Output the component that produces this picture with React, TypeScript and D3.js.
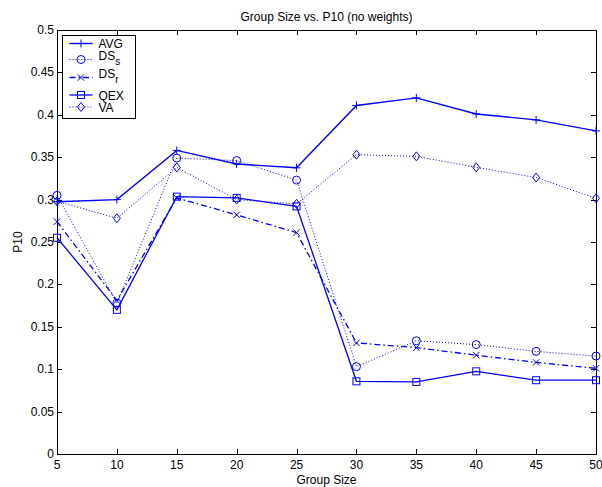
import { useEffect, useRef } from 'react';
import * as d3 from 'd3';

// group sizes on the x axis
const groupSizes = [5, 10, 15, 20, 25, 30, 35, 40, 45, 50];

// P10 for each method
const avgValues = [0.2975, 0.3, 0.358, 0.342, 0.3375, 0.411, 0.42, 0.401, 0.394, 0.381];
const dssValues = [0.305, 0.178, 0.349, 0.346, 0.323, 0.103, 0.1335, 0.129, 0.121, 0.1155];
const dsrValues = [0.274, 0.181, 0.302, 0.282, 0.261, 0.131, 0.1255, 0.1165, 0.108, 0.101];
const qexValues = [0.255, 0.17, 0.3035, 0.302, 0.292, 0.0857, 0.085, 0.0975, 0.087, 0.087];
const vaValues = [0.298, 0.278, 0.338, 0.3, 0.295, 0.353, 0.351, 0.338, 0.326, 0.3015];

const xTicks = [5, 10, 15, 20, 25, 30, 35, 40, 45, 50];
const yTicks = [0, 0.05, 0.1, 0.15, 0.2, 0.25, 0.3, 0.35, 0.4, 0.45, 0.5];

const seriesList = [
  { name: 'AVG', sub: '', values: avgValues, dash: null, marker: 'plus', width: 1.4 },
  { name: 'DS', sub: 's', values: dssValues, dash: '1,2', marker: 'circle', width: 1 },
  { name: 'DS', sub: 'r', values: dsrValues, dash: '6,3,1.5,3', marker: 'x', width: 1.3 },
  { name: 'QEX', sub: '', values: qexValues, dash: null, marker: 'square', width: 1.3 },
  { name: 'VA', sub: '', values: vaValues, dash: '1,2', marker: 'diamond', width: 1 },
];

const BLUE = '#0000ff';

const drawMarker = (g, type, x, y) => {
  const s = 4;
  if (type === 'plus') {
    g.append('path').attr('d', `M${x - s},${y}H${x + s}M${x},${y - s}V${y + s}`);
  } else if (type === 'x') {
    const t = 3.2;
    g.append('path').attr('d', `M${x - t},${y - t}L${x + t},${y + t}M${x - t},${y + t}L${x + t},${y - t}`);
  } else if (type === 'circle') {
    g.append('circle').attr('cx', x).attr('cy', y).attr('r', 4);
  } else if (type === 'square') {
    g.append('rect').attr('x', x - 3.5).attr('y', y - 3.5).attr('width', 7).attr('height', 7);
  } else if (type === 'diamond') {
    g.append('path').attr('d', `M${x},${y - 4.5}L${x + 3.5},${y}L${x},${y + 4.5}L${x - 3.5},${y}Z`);
  }
};

const App = () => {
  const svgRef = useRef(null);

  useEffect(() => {
    const width = 602;
    const height = 487;
    const margin = { top: 30, right: 6, bottom: 33, left: 57 };

    const svg = d3.select(svgRef.current);
    svg.selectAll('*').remove();
    svg
      .attr('width', width)
      .attr('height', height)
      .style('font-family', 'Liberation Sans, Arial, sans-serif')
      .style('display', 'block')
      .style('position', 'absolute')
      .style('left', '0px')
      .style('top', '0px');

    svg.append('rect').attr('width', width).attr('height', height).attr('fill', '#fff');

    const x = d3.scaleLinear().domain([5, 50]).range([margin.left, width - margin.right]);
    const y = d3.scaleLinear().domain([0, 0.5]).range([height - margin.bottom, margin.top]);

    const [x0, x1] = x.range();
    const [y0, y1] = y.range();

    // 軸框
    svg
      .append('rect')
      .attr('x', x0 + 0.5)
      .attr('y', y1 + 0.5)
      .attr('width', x1 - x0)
      .attr('height', y0 - y1)
      .attr('fill', 'none')
      .attr('stroke', '#000')
      .attr('stroke-width', 1);

    const tickLen = 5;
    const ticks = svg.append('g').attr('stroke', '#000').attr('stroke-width', 1);
    xTicks.forEach((t) => {
      const px = Math.round(x(t)) + 0.5;
      ticks.append('line').attr('x1', px).attr('x2', px).attr('y1', y0).attr('y2', y0 - tickLen);
      ticks.append('line').attr('x1', px).attr('x2', px).attr('y1', y1).attr('y2', y1 + tickLen);
    });
    yTicks.forEach((t) => {
      const py = Math.round(y(t)) + 0.5;
      ticks.append('line').attr('x1', x0).attr('x2', x0 + tickLen).attr('y1', py).attr('y2', py);
      ticks.append('line').attr('x1', x1).attr('x2', x1 - tickLen).attr('y1', py).attr('y2', py);
    });

    // 刻度標籤
    svg
      .append('g')
      .selectAll('text')
      .data(xTicks)
      .join('text')
      .attr('x', (d) => x(d))
      .attr('y', y0 + 15)
      .attr('text-anchor', 'middle')
      .attr('font-size', 12)
      .text((d) => d);

    svg
      .append('g')
      .selectAll('text')
      .data(yTicks)
      .join('text')
      .attr('x', x0 - 3)
      .attr('y', (d) => y(d) + 4)
      .attr('text-anchor', 'end')
      .attr('font-size', 12)
      .text((d) => d);

    svg
      .append('text')
      .attr('x', (x0 + x1) / 2)
      .attr('y', 21)
      .attr('text-anchor', 'middle')
      .attr('font-size', 12)
      .text('Group Size vs. P10 (no weights)');

    svg
      .append('text')
      .attr('x', (x0 + x1) / 2)
      .attr('y', y0 + 30)
      .attr('text-anchor', 'middle')
      .attr('font-size', 12)
      .text('Group Size');

    svg
      .append('text')
      .attr('transform', `translate(22,${(y0 + y1) / 2}) rotate(-90)`)
      .attr('text-anchor', 'middle')
      .attr('font-size', 12)
      .text('P10');

    // 資料線
    const line = d3
      .line()
      .x((d) => x(d[0]))
      .y((d) => y(d[1]));

    seriesList.forEach((s) => {
      const pts = groupSizes.map((g, i) => [g, s.values[i]]);
      svg
        .append('path')
        .datum(pts)
        .attr('d', line)
        .attr('fill', 'none')
        .attr('stroke', BLUE)
        .attr('stroke-width', s.width)
        .attr('stroke-dasharray', s.dash);
      const mg = svg.append('g').attr('fill', 'none').attr('stroke', BLUE).attr('stroke-width', 1);
      pts.forEach((p) => drawMarker(mg, s.marker, x(p[0]), y(p[1])));
    });

    // 圖例
    const lg = svg.append('g');
    const lx = 62.5;
    const ly = 35.5;
    lg.append('rect')
      .attr('x', lx)
      .attr('y', ly)
      .attr('width', 73)
      .attr('height', 83)
      .attr('fill', '#fff')
      .attr('stroke', '#000')
      .attr('stroke-width', 1);

    const rowY = [8, 24, 42, 59.5, 71.5];
    seriesList.forEach((s, i) => {
      const ry = ly + rowY[i];
      lg.append('line')
        .attr('x1', lx + 7)
        .attr('x2', lx + 30)
        .attr('y1', ry)
        .attr('y2', ry)
        .attr('stroke', BLUE)
        .attr('stroke-width', s.width)
        .attr('stroke-dasharray', s.dash);
      const mg = lg.append('g').attr('fill', 'none').attr('stroke', BLUE).attr('stroke-width', 1);
      drawMarker(mg, s.marker, lx + 18.5, ry);
      const t = lg
        .append('text')
        .attr('x', lx + 36)
        .attr('y', ry + (s.sub ? 0 : 4.5))
        .attr('font-size', 12)
        .text(s.name);
      if (s.sub) {
        t.append('tspan').attr('dy', 5).attr('font-size', 10).text(s.sub);
      }
    });
  }, []);

  return <svg ref={svgRef}></svg>;
};

export default App;
